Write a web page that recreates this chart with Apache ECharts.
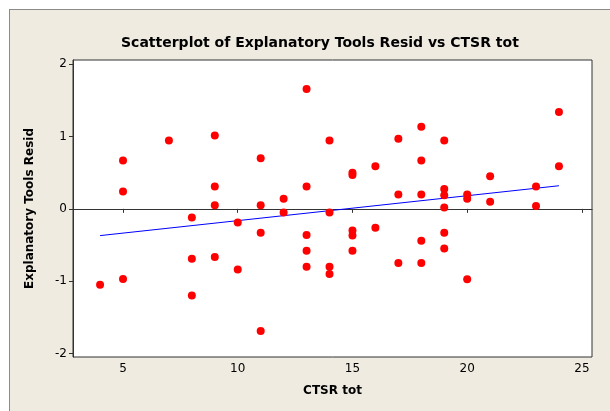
<!DOCTYPE html>
<html>
<head>
<meta charset="utf-8">
<script src="https://cdn.jsdelivr.net/npm/echarts@6/dist/echarts.min.js"></script>
<style>
  html, body { margin: 0; padding: 0; background: #fff; }
  #frame { position: absolute; left: 9px; top: 9px; width: 610px; height: 411px;
           background: #efebe1; border-left: 1px solid #8a8a8a; border-top: 1px solid #8a8a8a; }
  #chart { position: absolute; left: 0; top: 0; width: 610px; height: 411px; }
</style>
</head>
<body>
<div id="frame"></div>
<div id="chart"></div>
<script>
// CTSR tot vs Explanatory Tools Resid
const ctsr = [
  4,
  5, 5, 5,
  7,
  8, 8, 8,
  9, 9, 9, 9,
  10, 10,
  11, 11, 11, 11,
  12, 12,
  13, 13, 13, 13, 13,
  14, 14, 14, 14,
  15, 15, 15, 15, 15,
  16, 16,
  17, 17, 17,
  18, 18, 18, 18, 18,
  19, 19, 19, 19, 19, 19,
  20, 20, 20,
  21, 21,
  23, 23,
  24, 24
]
const resid = [
  -1.05,
  0.67, 0.24, -0.97,
  0.945,
  -0.12, -0.69, -1.20,
  1.015, 0.31, 0.05, -0.665,
  -0.19, -0.84,
  0.70, 0.05, -0.33, -1.69,
  0.14, -0.05,
  1.66, 0.31, -0.36, -0.58, -0.80,
  0.945, -0.05, -0.80, -0.90,
  0.50, 0.47, -0.30, -0.37, -0.58,
  0.59, -0.26,
  0.97, 0.20, -0.75,
  1.135, 0.67, 0.20, -0.44, -0.75,
  0.945, 0.275, 0.19, 0.02, -0.33, -0.55,
  0.20, 0.14, -0.975,
  0.45, 0.10,
  0.31, 0.04,
  1.34, 0.59
]
// fitted line end points
const fitX = [4, 24]
const fitY = [-0.37, 0.32]

const xTicks = [5, 10, 15, 20, 25]
const yTicks = [-2, -1, 0, 1, 2]

const font = 'Tahoma, Verdana, "DejaVu Sans", sans-serif'
const chart = echarts.init(document.getElementById('chart'))

chart.setOption({
  backgroundColor: 'transparent',
  animation: false,
  title: {
    text: 'Scatterplot of Explanatory Tools Resid vs CTSR tot',
    left: 116, top: 31,
    textStyle: { fontFamily: font, fontSize: 14, fontWeight: 'bold', color: '#000' }
  },
  grid: {
    left: 73, top: 60, right: 18, bottom: 54,
    show: true, backgroundColor: '#fff', borderColor: '#333', borderWidth: 1
  },
  xAxis: {
    type: 'value', min: 2.82, max: 25.44,
    name: 'CTSR tot', nameLocation: 'middle', nameGap: 28,
    nameTextStyle: { fontFamily: font, fontSize: 12, fontWeight: 'bold', color: '#000' },
    axisLine: { show: true, lineStyle: { color: '#333' } },
    axisTick: { show: true, length: 4, lineStyle: { color: '#333' }, customValues: xTicks },
    axisLabel: { fontFamily: font, fontSize: 12, color: '#000', margin: 6, customValues: xTicks },
    splitLine: { show: false }
  },
  yAxis: {
    type: 'value', min: -2.05, max: 2.06,
    name: 'Explanatory Tools Resid', nameLocation: 'middle', nameGap: 37,
    nameTextStyle: { fontFamily: font, fontSize: 12, fontWeight: 'bold', color: '#000' },
    axisLine: { show: true, lineStyle: { color: '#333' } },
    axisTick: { show: true, length: 4, lineStyle: { color: '#333' }, customValues: yTicks },
    axisLabel: { fontFamily: font, fontSize: 12, color: '#000', margin: 6, customValues: yTicks },
    splitLine: { show: false }
  },
  series: [
    {
      type: 'line',
      data: fitX.map((x, i) => [x, fitY[i]]),
      showSymbol: false, symbol: 'none',
      lineStyle: { color: '#0000ff', width: 1 },
      z: 2
    },
    {
      type: 'scatter',
      data: ctsr.map((x, i) => [x, resid[i]]),
      symbol: 'circle', symbolSize: 8,
      itemStyle: { color: '#ff0000', opacity: 1 },
      z: 3
    }
  ]
})
</script>
</body>
</html>
